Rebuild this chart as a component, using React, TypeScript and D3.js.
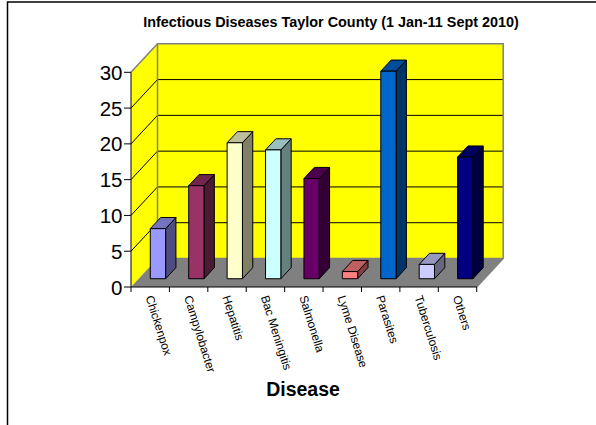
import React from "react";
import * as d3 from "d3";

const categories = ["Chickenpox","Campylobacter","Hepatitis","Bac Meningitis","Salmonella","Lyme Disease","Parasites","Tuberculosis","Others"];
const values = [7,13,19,18,14,1,29,2,17];
const frontColors = ["#9999ff","#993366","#ffffcc","#ccffff","#660066","#ff8080","#0066cc","#ccccff","#000080"];
const yTicks = [0,5,10,15,20,25,30];
const title = "Infectious Diseases Taylor County (1 Jan-11 Sept 2010)";
const xTitle = "Disease";

const W = 596, H = 425;
const depthX = 26.5, depthY = 28.5;
const x = d3.scaleBand<string>().domain(categories).range([131, 476.7]);
const y = d3.scaleLinear().domain([0, 30]).range([287, 72.3]);

const shade = (c: string, k: number) => {
  const r = d3.rgb(c);
  return d3.rgb(r.r * k, r.g * k, r.b * k).formatHex();
};
const pts = (p: number[][]) => p.map((q) => q.join(",")).join(" ");

export default function App() {
  const y0 = y(0), y30 = y(30), xL = 131, xR = 476.7;
  const bw = 15.3, bandStart = 19.3;
  const d0 = 0.29, d1 = 0.68;
  return (
    <svg width={W} height={H} style={{ position: "absolute", left: 0, top: 0, display: "block" }} fontFamily="'Liberation Sans', Arial, sans-serif">
      <rect x={0} y={0} width={W} height={H} fill="#fff" />
      <path d={`M7.5,${H}V2H${W}`} fill="none" stroke="#000" strokeWidth={1.5} />
      {/* back wall */}
      <rect x={xL + depthX} y={y30 - depthY} width={xR - xL} height={y0 - y30} fill="#ffff00" />
      {/* side wall */}
      <polygon points={pts([[xL, y0],[xL, y30],[xL + depthX, y30 - depthY],[xL + depthX, y0 - depthY]])} fill="#ffff00" />
      {/* floor */}
      <polygon points={pts([[xL, y0],[xR, y0],[xR + depthX, y0 - depthY],[xL + depthX, y0 - depthY]])} fill="#808080" />
      {/* gridlines */}
      {yTicks.slice(1, -1).map((t) => (
        <path key={t} d={`M${xL},${y(t)}L${xL + depthX},${y(t) - depthY}H${xR + depthX}`} fill="none" stroke="#000" strokeWidth={1} />
      ))}
      <path d={`M${xL},${y30}L${xL + depthX},${y30 - depthY}H${xR + depthX}V${y0 - depthY}L${xR},${y0}`} fill="none" stroke="#808080" strokeWidth={1.5} />
      <path d={`M${xL + depthX},${y30 - depthY}V${y0 - depthY}H${xR + depthX}`} fill="none" stroke="#808080" strokeWidth={1.5} />
      {/* bars */}
      {categories.map((c, i) => {
        const fx = (x(c) as number) + bandStart;
        const by = y0 - depthY * d0;
        const h = y0 - y(values[i]);
        const ddx = depthX * (d1 - d0), ddy = depthY * (d1 - d0);
        const top = by - h;
        return (
          <g key={c} stroke="#000" strokeWidth={1} strokeLinejoin="round">
            <polygon points={pts([[fx + bw, by],[fx + bw + ddx, by - ddy],[fx + bw + ddx, top - ddy],[fx + bw, top]])} fill={shade(frontColors[i], 0.5)} />
            <polygon points={pts([[fx, top],[fx + ddx, top - ddy],[fx + bw + ddx, top - ddy],[fx + bw, top]])} fill={shade(frontColors[i], 0.75)} />
            <rect x={fx} y={top} width={bw} height={h} fill={frontColors[i]} />
          </g>
        );
      })}
      {/* axes */}
      <path d={`M${xL},${y30}V${y0}H${xR}`} fill="none" stroke="#000" strokeWidth={1} />
      {yTicks.map((t) => (
        <g key={t}>
          <line x1={xL - 7} x2={xL} y1={y(t)} y2={y(t)} stroke="#000" />
          <text x={xL - 8.5} y={y(t) + 7.5} textAnchor="end" fontSize={20.5} fill="#000">{t}</text>
        </g>
      ))}
      {categories.map((c) => (
        <line key={c} x1={x(c) as number} x2={x(c) as number} y1={y0} y2={y0 + 5} stroke="#000" />
      ))}
      <line x1={xR} x2={xR} y1={y0} y2={y0 + 5} stroke="#000" />
      {categories.map((c) => {
        const lx = (x(c) as number) + 14.5;
        return (
          <text key={c} transform={`translate(${lx},${y0 + 10}) rotate(72.5)`} fontSize={11.9} fill="#000">{c}</text>
        );
      })}
      <text x={303} y={396} textAnchor="middle" fontSize={19.5} fontWeight="bold" fill="#000">{xTitle}</text>
      <text x={331} y={27} textAnchor="middle" fontSize={14.4} fontWeight="bold" fill="#000">{title}</text>
    </svg>
  );
}
